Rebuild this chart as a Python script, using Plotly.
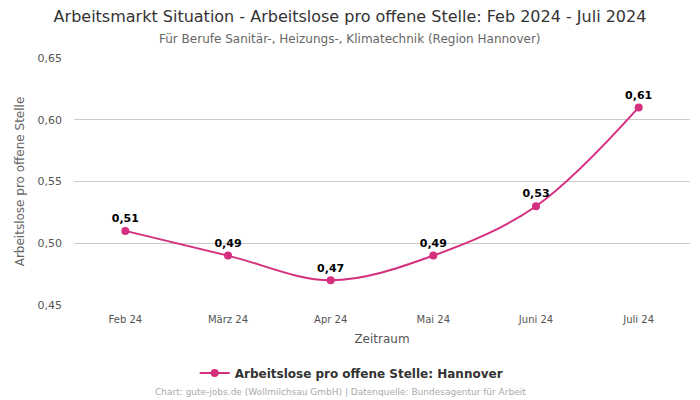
import plotly.graph_objects as go

months = ["Feb 24", "März 24", "Apr 24", "Mai 24", "Juni 24", "Juli 24"]
values = [0.51, 0.49, 0.47, 0.49, 0.53, 0.61]
labels = ["0,51", "0,49", "0,47", "0,49", "0,53", "0,61"]
y_ticks = [0.45, 0.50, 0.55, 0.60, 0.65]

color = "#d42f7f"
font = "DejaVu Sans"

fig = go.Figure()
fig.add_trace(go.Scatter(
    x=months, y=values,
    mode="lines+markers+text",
    line=dict(color=color, width=2, shape="spline", smoothing=1.0),
    marker=dict(color=color, size=8),
    text=labels, textposition="top center",
    textfont=dict(family=font, size=11, color="#000000", weight="bold"),
    name="Arbeitslose pro offene Stelle: Hannover",
))

fig.update_layout(
    width=700, height=400,
    font=dict(family=font, color="#555555"),
    separators=",.",
    plot_bgcolor="white", paper_bgcolor="white",
    margin=dict(l=74, r=10, t=58, b=95),
    title=dict(
        text="Arbeitsmarkt Situation - Arbeitslose pro offene Stelle: Feb 2024 - Juli 2024",
        x=0.5, xanchor="center", y=0.958, yanchor="middle",
        font=dict(size=16, color="#333333"),
    ),
    legend=dict(
        orientation="h", x=0.45, xanchor="center", y=-0.275, yanchor="middle",
        font=dict(size=12, color="#333333", weight="bold"),
    ),
    showlegend=True,
)

fig.update_xaxes(
    title=dict(text="Zeitraum", font=dict(size=12, color="#555555"), standoff=10),
    range=[-0.5, len(months) - 0.5],
    tickfont=dict(size=10, color="#555555"), ticklabelstandoff=7,
    showgrid=False, showline=False, ticks="", automargin=False,
)
fig.update_yaxes(
    title=dict(text="Arbeitslose pro offene Stelle", font=dict(size=12, color="#666666"), standoff=10),
    range=[0.45, 0.65], tickvals=y_ticks, tickformat=".2f",
    tickfont=dict(size=11, color="#555555"), ticklabelstandoff=11,
    gridcolor="#cccccc", gridwidth=1, zeroline=False, showline=False, ticks="",
    automargin=False,
)

fig.add_annotation(
    text="Für Berufe Sanitär-, Heizungs-, Klimatechnik (Region Hannover)",
    xref="paper", yref="paper", x=0.448, y=1.077, showarrow=False,
    xanchor="center", yanchor="middle",
    font=dict(size=12, color="#666666"),
)
fig.add_annotation(
    text="Chart: gute-jobs.de (Wollmilchsau GmbH) | Datenquelle: Bundesagentur für Arbeit",
    xref="paper", yref="paper", x=0.432, y=-0.352, showarrow=False,
    xanchor="center", yanchor="middle",
    font=dict(size=9, color="#aaaaaa"),
)

fig.write_html("out.html", config={"displayModeBar": False},
               post_script="document.body.style.margin='0';")
